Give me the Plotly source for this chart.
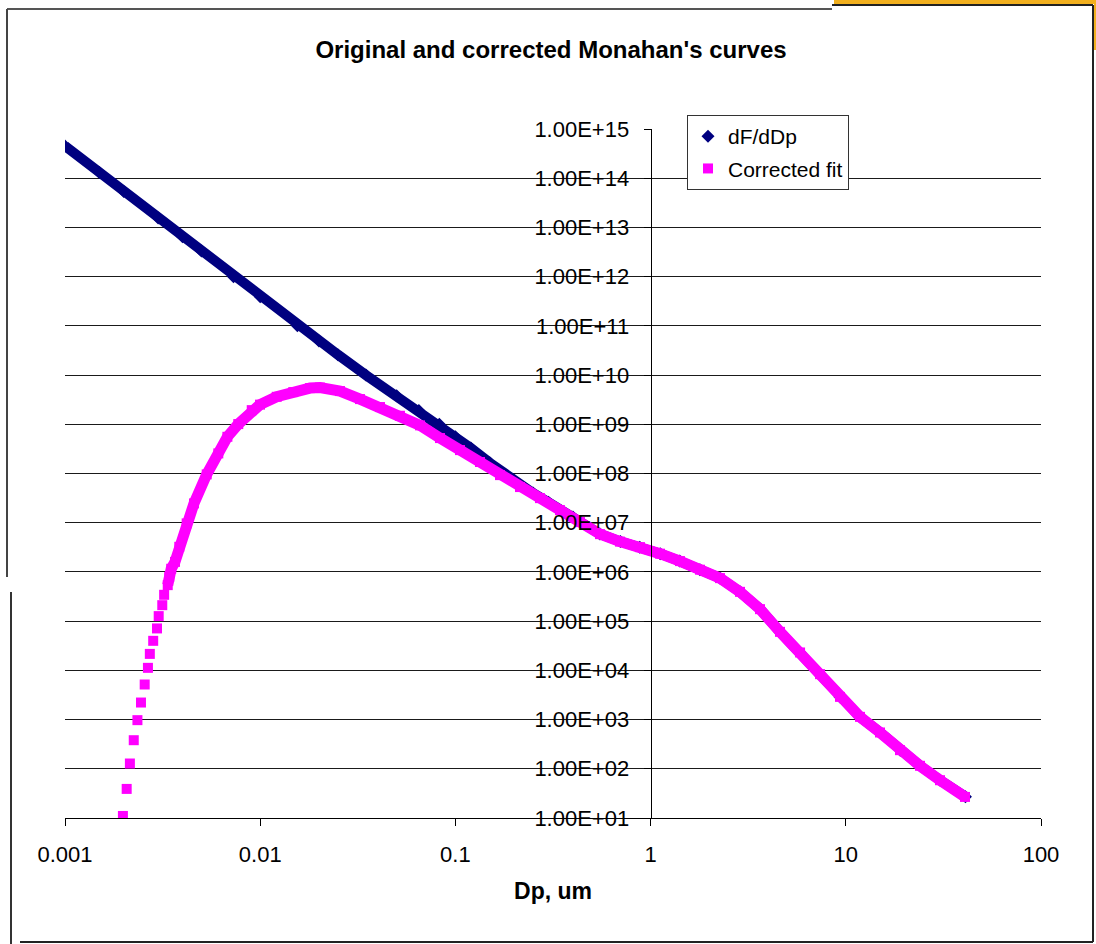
import plotly.graph_objects as go

# ---- data ----
dp_orig = [0.001, 0.0015, 0.002, 0.003, 0.004, 0.005, 0.0073, 0.01, 0.0155, 0.02,
           0.025, 0.0348, 0.05, 0.065, 0.0827, 0.1, 0.12, 0.15, 0.2, 0.25,
           0.3, 0.4, 0.55, 0.7, 0.88, 1.12, 1.41, 1.79, 2.27, 2.87,
           3.64, 4.6, 5.83, 7.38, 9.34, 11.8, 15.0, 19.0, 24.0, 30.4, 41.0]
dfddp_orig = [4.5e14, 1.3e14, 5.4e13, 1.56e13, 6.5e12, 3.3e12, 1.0e12, 3.9e11, 1.0e11, 4.9e10,
              2.6e10, 1.0e10, 3.8e9, 1.9e9, 1.0e9, 5.6e8, 3.3e8, 1.65e8, 7.0e7, 4.0e7,
              2.6e7, 1.3e7, 5.9e6, 4.13e6, 3.19e6, 2.35e6, 1.66e6, 1.11e6, 7.48e5, 3.94e5,
              1.75e5, 6.06e4, 2.31e4, 8.37e3, 2.89e3, 1.135e3, 547, 239, 115, 58.6, 27]

dp_fit = [0.00198, 0.00207, 0.00215, 0.00225, 0.00235, 0.00245, 0.00256, 0.00266, 0.00272, 0.00283,
          0.00296, 0.00302, 0.00315, 0.00322, 0.00336, 0.00342, 0.0035, 0.00366, 0.00385, 0.0042,
          0.00458, 0.00532, 0.0061, 0.00679, 0.00772, 0.00905, 0.00998, 0.01215, 0.01477, 0.018,
          0.02025, 0.02563, 0.03246, 0.04109, 0.052, 0.0659, 0.0834, 0.1056, 0.1337, 0.1692,
          0.2143, 0.2713, 0.3435, 0.4348, 0.5506, 0.6969, 0.8824, 1.117, 1.414, 1.791,
          2.268, 2.871, 3.636, 4.6, 5.83, 7.38, 9.34, 11.82, 14.97, 18.95,
          23.99, 30.38, 40.8]
fit_vals = [11, 39, 128, 381, 973, 2220, 5160, 11250, 21600, 39800,
            71100, 126500, 211000, 343000, 539000, 795000, 1.16e6, 1.6e6, 3.24e6, 9.7e6,
            2.47e7, 9.6e7, 2.56e8, 5.57e8, 1.01e9, 1.94e9, 2.51e9, 3.62e9, 4.51e9, 5.44e9,
            5.57e9, 4.73e9, 3.25e9, 2.24e9, 1.49e9, 9.5e8, 5.25e8, 2.99e8, 1.71e8, 9.27e7,
            5.3e7, 3.16e7, 1.8e7, 1.03e7, 5.86e6, 4.13e6, 3.19e6, 2.35e6, 1.66e6, 1.11e6,
            7.48e5, 3.94e5, 1.75e5, 6.06e4, 2.31e4, 8.37e3, 2.89e3, 1.135e3, 547, 239,
            115, 58.6, 26.8]
FIT_DENSE_START = 14  # from here on the squares overlap into a continuous band

x_ticks = [0.001, 0.01, 0.1, 1, 10, 100]
x_ticktext = ["0.001", "0.01", "0.1", "1", "10", "100"]
y_ticks = [10.0 ** k for k in range(1, 16)]
y_ticktext = ["1.00E+%02d" % k for k in range(1, 16)]

NAVY = "#000080"
MAGENTA = "#FF00FF"
FONT = "Liberation Sans, Arial, sans-serif"

fig = go.Figure()
fig.add_trace(go.Scatter(x=dp_orig, y=dfddp_orig, mode="lines",
                         line=dict(color=NAVY, width=10), showlegend=False,
                         hoverinfo="skip", legendgroup="a"))
fig.add_trace(go.Scatter(x=dp_orig, y=dfddp_orig, mode="markers", name="dF/dDp",
                         marker=dict(symbol="diamond", size=10, color=NAVY, line=dict(width=0)),
                         legendgroup="a"))
fig.add_trace(go.Scatter(x=dp_fit[FIT_DENSE_START:], y=fit_vals[FIT_DENSE_START:], mode="lines",
                         line=dict(color=MAGENTA, width=11), showlegend=False,
                         hoverinfo="skip", legendgroup="b"))
fig.add_trace(go.Scatter(x=dp_fit, y=fit_vals, mode="markers", name="Corrected fit",
                         marker=dict(symbol="square", size=10, color=MAGENTA, line=dict(width=0)),
                         legendgroup="b"))

W, H = 1096, 944
L, R, T, B = 65, 1041, 129, 818


def px(x):
    return (x - L) / (R - L)


def py(y):
    return (B - y) / (B - T)


shapes = [
    # outer chart frame (from the screenshot)
    dict(type="line", xref="paper", yref="paper", x0=px(7), x1=px(832), y0=py(9), y1=py(9),
         line=dict(color="#555555", width=2)),
    dict(type="line", xref="paper", yref="paper", x0=px(832), x1=px(1093), y0=py(5), y1=py(5),
         line=dict(color="#222222", width=2)),
    dict(type="line", xref="paper", yref="paper", x0=px(1093), x1=px(1093), y0=py(5), y1=py(942),
         line=dict(color="#222222", width=2)),
    dict(type="line", xref="paper", yref="paper", x0=px(20), x1=px(1093), y0=py(942), y1=py(942),
         line=dict(color="#222222", width=2)),
    dict(type="line", xref="paper", yref="paper", x0=px(7), x1=px(7), y0=py(9), y1=py(577),
         line=dict(color="#444444", width=2)),
    dict(type="line", xref="paper", yref="paper", x0=px(11), x1=px(11), y0=py(592), y1=py(944),
         line=dict(color="#333333", width=2)),
    dict(type="rect", xref="paper", yref="paper", x0=px(834), x1=px(1096), y0=py(0), y1=py(4),
         line=dict(width=0), fillcolor="#F2B01E"),
    dict(type="rect", xref="paper", yref="paper", x0=px(1094), x1=px(1096), y0=py(0), y1=py(50),
         line=dict(width=0), fillcolor="#F2B01E"),
]

fig.update_layout(
    width=W, height=H,
    margin=dict(l=L, r=W - R, t=T, b=H - B, pad=0),
    paper_bgcolor="white", plot_bgcolor="white",
    font=dict(family=FONT, size=22, color="black"),
    title=dict(text="<b>Original and corrected Monahan's curves</b>",
               font=dict(family=FONT, size=24, color="black"),
               x=551 / W, xref="container", xanchor="center",
               y=1 - 50 / H, yref="container", yanchor="middle"),
    showlegend=True,
    legend=dict(x=px(687), y=py(115), xanchor="left", yanchor="top",
                bgcolor="white", bordercolor="#333333", borderwidth=1,
                font=dict(family=FONT, size=21, color="black"),
                traceorder="grouped", tracegroupgap=2, itemwidth=30),
    shapes=shapes,
    xaxis=dict(type="log", range=[-3, 2], tickvals=x_ticks, ticktext=x_ticktext,
               showgrid=False, zeroline=False, showline=True, linecolor="black", linewidth=1,
               ticks="outside", ticklen=7, tickcolor="black", tickwidth=1,
               ticklabelstandoff=10, tickfont=dict(size=22),
               title=dict(text="<b>Dp, um</b>", font=dict(family=FONT, size=23), standoff=16),
               anchor="y"),
    yaxis=dict(type="log", range=[1, 15], tickvals=y_ticks, ticktext=y_ticktext,
               showgrid=True, gridcolor="#1a1a1a", gridwidth=1, zeroline=False,
               showline=True, linecolor="black", linewidth=1,
               ticks="outside", ticklen=7, tickcolor="black", tickwidth=1,
               ticklabelstandoff=10, tickfont=dict(size=22),
               anchor="free", position=0.6, side="left"),
)

fig.write_html("out.html", config={"displayModeBar": False},
               post_script="document.body.style.margin='0px';")
